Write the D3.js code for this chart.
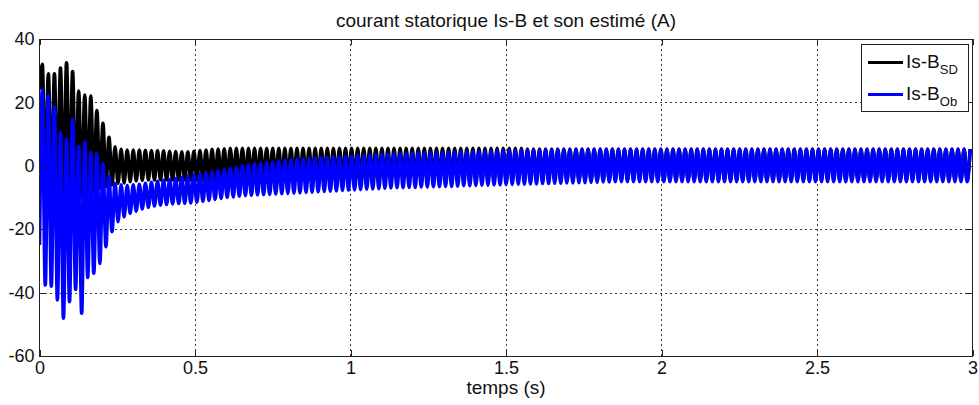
<!DOCTYPE html>
<html>
<head>
<meta charset="utf-8">
<script src="https://cdn.jsdelivr.net/npm/d3@7/dist/d3.min.js"></script>
<style>
  html, body { margin: 0; padding: 0; background: #fff; }
  svg { display: block; }
  text { font-family: "Liberation Sans", Arial, Helvetica, sans-serif; fill: #111; }
</style>
</head>
<body>
<svg id="chart" width="979" height="405"></svg>
<script>
// Stator current Is-B (measured) and its observer estimate, in amperes.
// Each series is stored as its successive cycle extremes: one peak and one
// trough per electrical period, starting from the value at t = 0.
const period = 0.0195;      // s, one electrical cycle
const peakPhase = 0.009;    // s, offset of the peak inside each cycle
const troughPhase = 0.0185; // s, offset of the trough inside each cycle

const sdStart = 24;
const sdPeaks = [
  32, 29, 29, 30.8, 32.5, 29.7, 23.6, 22.3, 22, 17.4,
  13.4, 9, 6, 5.2, 5, 5, 5, 4.9, 4.8, 4.8,
  4.7, 4.6, 4.5, 4.4, 4.4, 4.6, 4.8, 5, 5.2, 5.3,
  5.4, 5.5, 5.5, 5.5, 5.5, 5.5, 5.5, 5.5, 5.5, 5.5,
  5.5, 5.5, 5.5, 5.5, 5.5, 5.5, 5.5, 5.5, 5.5, 5.5,
  5.5, 5.5, 5.5, 5.5, 5.5, 5.5, 5.5, 5.5, 5.5, 5.5,
  5.5, 5.5, 5.5, 5.5, 5.5, 5.5, 5.5, 5.5, 5.5, 5.5,
  5.5, 5.5, 5.5, 5.5, 5.5, 5.5, 5.5, 5.5, 5.5, 5.5,
  5.3, 5.3, 5.3, 5.3, 5.3, 5.3, 5.3, 5.3, 5.3, 5.3,
  5.3, 5.3, 5.3, 5.3, 5.3, 5.3, 5.3, 5.3, 5.3, 5.3,
  5.3, 5.3, 5.3, 5.3, 5.3, 5.3, 5.3, 5.3, 5.3, 5.3,
  5.3, 5.3, 5.3, 5.3, 5.3, 5.3, 5.3, 5.3, 5.3, 5.3,
  5.3, 5.3, 5.3, 5.3, 5.3, 5.3, 5.3, 5.3, 5.3, 5.3,
  5.3, 5.3, 5.3, 5.3, 5.3, 5.3, 5.3, 5.3, 5.3, 5.3,
  5.3, 5.3, 5.3, 5.3, 5.3, 5.3, 5.3, 5.3, 5.3, 5.3,
  5.3, 5.3, 5.3, 5.3
];
const sdTroughs = [
  -6, -9, -10, -11, -11, -10, -10, -9, -8, -7,
  -6.5, -6, -5.5, -5.4, -5, -4.8, -4.6, -4.5, -4.5, -4.5,
  -4.5, -4.5, -4.5, -4.5, -4.5, -4.5, -4.5, -4.5, -4.5, -4.5,
  -4.5, -4.5, -4.5, -4.5, -4.5, -4.5, -4.5, -4.5, -4.5, -4.5,
  -4.5, -4.5, -4.5, -4.5, -4.5, -4.5, -4.5, -4.5, -4.5, -4.5,
  -4.5, -4.5, -4.5, -4.5, -4.5, -4.5, -4.5, -4.5, -4.5, -4.5,
  -4.5, -4.5, -4.5, -4.5, -4.5, -4.5, -4.5, -4.5, -4.5, -4.5,
  -4.5, -4.5, -4.5, -4.5, -4.5, -4.5, -4.5, -4.5, -4.5, -4.5,
  -4.5, -4.5, -4.5, -4.5, -4.5, -4.5, -4.5, -4.5, -4.5, -4.5,
  -4.5, -4.5, -4.5, -4.5, -4.5, -4.5, -4.5, -4.5, -4.5, -4.5,
  -4.5, -4.5, -4.5, -4.5, -4.5, -4.5, -4.5, -4.5, -4.5, -4.5,
  -4.5, -4.5, -4.5, -4.5, -4.5, -4.5, -4.5, -4.5, -4.5, -4.5,
  -4.5, -4.5, -4.5, -4.5, -4.5, -4.5, -4.5, -4.5, -4.5, -4.5,
  -4.5, -4.5, -4.5, -4.5, -4.5, -4.5, -4.5, -4.5, -4.5, -4.5,
  -4.5, -4.5, -4.5, -4.5, -4.5, -4.5, -4.5, -4.5, -4.5, -4.5,
  -4.5, -4.5, -4.5, -4.5
];

const obStart = -25;
const obPeaks = [
  24, 22, 18.6, 10.5, 8.4, 14.5, 6.1, 7.5, 4.2, 3.8,
  0.7, -3.4, -5.5, -6.0, -6.2, -6.0, -5.8, -5.5, -5.2, -4.9,
  -4.6, -4.3, -4.0, -3.7, -3.3, -3.0, -2.7, -2.3, -2.0, -1.6,
  -1.2, -0.8, -0.4, 0.0, 0.3, 0.6, 0.9, 1.1, 1.3, 1.5,
  1.7, 1.9, 2.1, 2.2, 2.4, 2.5, 2.6, 2.7, 2.8, 2.9,
  3.0, 3.1, 3.2, 3.3, 3.4, 3.5, 3.6, 3.7, 3.8, 3.9,
  3.9, 4.0, 4.0, 4.1, 4.1, 4.2, 4.2, 4.3, 4.3, 4.4,
  4.4, 4.5, 4.5, 4.6, 4.6, 4.7, 4.7, 4.8, 4.8, 4.9,
  4.9, 5.0, 5.0, 5.0, 5.1, 5.1, 5.1, 5.1, 5.2, 5.2,
  5.2, 5.2, 5.2, 5.2, 5.2, 5.2, 5.2, 5.2, 5.2, 5.2,
  5.2, 5.2, 5.2, 5.2, 5.2, 5.2, 5.2, 5.2, 5.2, 5.2,
  5.2, 5.2, 5.2, 5.2, 5.2, 5.2, 5.2, 5.2, 5.2, 5.2,
  5.2, 5.2, 5.2, 5.2, 5.2, 5.2, 5.2, 5.2, 5.2, 5.2,
  5.2, 5.2, 5.2, 5.2, 5.2, 5.2, 5.2, 5.2, 5.2, 5.2,
  5.2, 5.2, 5.2, 5.2, 5.2, 5.2, 5.2, 5.2, 5.2, 5.2,
  5.2, 5.2, 5.2, 5.2
];
const obTroughs = [
  -37.6, -38, -42.3, -48.1, -42.9, -39, -46.5, -35.2, -33.9, -30.8,
  -25.5, -20.8, -17.6, -16.1, -15.0, -14.3, -13.6, -13.1, -12.7, -12.4,
  -12.2, -12.0, -11.9, -11.8, -11.7, -11.5, -11.2, -10.9, -10.6, -10.3,
  -10.0, -9.8, -9.6, -9.4, -9.3, -9.2, -9.1, -9.0, -8.9, -8.8,
  -8.7, -8.6, -8.5, -8.4, -8.3, -8.2, -8.1, -8.0, -7.9, -7.8,
  -7.7, -7.6, -7.5, -7.4, -7.3, -7.2, -7.1, -7.0, -6.9, -6.9,
  -6.8, -6.8, -6.7, -6.7, -6.6, -6.6, -6.5, -6.5, -6.4, -6.3,
  -6.3, -6.2, -6.1, -6.1, -6.0, -6.0, -5.9, -5.9, -5.8, -5.8,
  -5.7, -5.7, -5.6, -5.6, -5.5, -5.5, -5.4, -5.4, -5.3, -5.3,
  -5.2, -5.2, -5.1, -5.1, -5.0, -5.0, -5.0, -5.0, -5.0, -5.0,
  -5.0, -5.0, -5.0, -5.0, -5.0, -5.0, -5.0, -5.0, -5.0, -5.0,
  -5.0, -5.0, -5.0, -5.0, -5.0, -5.0, -5.0, -5.0, -5.0, -5.0,
  -5.0, -5.0, -5.0, -5.0, -5.0, -5.0, -5.0, -5.0, -5.0, -5.0,
  -5.0, -5.0, -5.0, -5.0, -5.0, -5.0, -5.0, -5.0, -5.0, -5.0,
  -5.0, -5.0, -5.0, -5.0, -5.0, -5.0, -5.0, -5.0, -5.0, -5.0,
  -5.0, -5.0, -5.0, -5.0
];

const xTicks = [0, 0.5, 1, 1.5, 2, 2.5, 3];
const yTicks = [-60, -40, -20, 0, 20, 40];
const titleText = "courant statorique Is-B et son estimé (A)";
const xLabel = "temps (s)";
const seriesNames = [["Is-B", "SD"], ["Is-B", "Ob"]];
const seriesColors = ["#000000", "#0000ff"];

// ---- layout ----
const plot = { left: 39.5, right: 972.5, top: 39, bottom: 356 };
const svg = d3.select("#chart");
const x = d3.scaleLinear().domain([0, 3]).range([plot.left, plot.right]);
const y = d3.scaleLinear().domain([-60, 40]).range([plot.bottom, plot.top]);

// Turn a start value + per-cycle extremes into an ordered list of points.
function toPoints(start, peaks, troughs) {
  const pts = [{ t: 0, v: start }];
  peaks.forEach((p, k) => {
    pts.push({ t: k * period + peakPhase, v: p });
    pts.push({ t: k * period + troughPhase, v: troughs[k] });
  });
  return pts.filter(d => d.t <= 3);
}

// grid
const grid = svg.append("g").attr("stroke", "#3a3a3a").attr("stroke-width", 1)
  .attr("stroke-dasharray", "2,3").attr("shape-rendering", "crispEdges");
grid.selectAll("line.gx").data(xTicks.slice(1, -1)).join("line")
  .attr("x1", d => Math.round(x(d)) + 0.5).attr("x2", d => Math.round(x(d)) + 0.5)
  .attr("y1", plot.top).attr("y2", plot.bottom);
grid.selectAll("line.gy").data(yTicks.slice(1, -1)).join("line")
  .attr("y1", d => Math.round(y(d)) + 0.5).attr("y2", d => Math.round(y(d)) + 0.5)
  .attr("x1", plot.left).attr("x2", plot.right);

// traces
svg.append("clipPath").attr("id", "plotClip").append("rect")
  .attr("x", plot.left).attr("y", plot.top)
  .attr("width", plot.right - plot.left).attr("height", plot.bottom - plot.top);

const line = d3.line().x(d => x(d.t)).y(d => y(d.v)).curve(d3.curveMonotoneX);
const traces = svg.append("g").attr("clip-path", "url(#plotClip)");
traces.append("path").datum(toPoints(sdStart, sdPeaks, sdTroughs))
  .attr("d", line).attr("fill", "none").attr("stroke", seriesColors[0])
  .attr("stroke-width", 3.6).attr("stroke-linejoin", "round");
traces.append("path").datum(toPoints(obStart, obPeaks, obTroughs))
  .attr("d", line).attr("fill", "none").attr("stroke", seriesColors[1])
  .attr("stroke-width", 3.6).attr("stroke-linejoin", "round");

// axes box with inward ticks on all four sides
const tickLen = 6;
const frame = svg.append("g").attr("stroke", "#222").attr("stroke-width", 1)
  .attr("shape-rendering", "crispEdges").attr("fill", "none");
frame.append("rect").attr("x", plot.left).attr("y", plot.top + 0.5)
  .attr("width", plot.right - plot.left).attr("height", plot.bottom - plot.top);

const xAxisB = d3.axisBottom(x).tickValues(xTicks).tickSize(-tickLen).tickPadding(5).tickFormat(d => String(d));
const xAxisT = d3.axisTop(x).tickValues(xTicks).tickSize(-tickLen).tickFormat("");
const yAxisL = d3.axisLeft(y).tickValues(yTicks).tickSize(-tickLen).tickPadding(4.5).tickFormat(d => String(d));
const yAxisR = d3.axisRight(y).tickValues(yTicks).tickSize(-tickLen).tickFormat("");

function styleAxis(g) {
  g.select(".domain").remove();
  g.selectAll(".tick line").attr("stroke", "#222").attr("shape-rendering", "crispEdges");
  g.selectAll(".tick text").attr("fill", "#111").style("font-size", "18px")
    .style("font-family", '"Liberation Sans", Arial, sans-serif');
}
svg.append("g").attr("transform", `translate(0,${plot.bottom})`).call(xAxisB).call(styleAxis);
svg.append("g").attr("transform", `translate(0,${plot.top})`).call(xAxisT).call(styleAxis);
svg.append("g").attr("transform", `translate(${plot.left - 0.5},0)`).call(yAxisL).call(styleAxis);
svg.append("g").attr("transform", `translate(${plot.right - 0.5},0)`).call(yAxisR).call(styleAxis);

// title and axis label
svg.append("text").attr("x", (plot.left + plot.right) / 2).attr("y", 26.5)
  .attr("text-anchor", "middle").style("font-size", "19px").text(titleText);
svg.append("text").attr("x", (plot.left + plot.right) / 2).attr("y", 394)
  .attr("text-anchor", "middle").style("font-size", "19px").text(xLabel);

// legend
const lg = svg.append("g");
lg.append("rect").attr("x", 861.5).attr("y", 44.5).attr("width", 107).attr("height", 67)
  .attr("fill", "#fff").attr("stroke", "#222").attr("stroke-width", 1).attr("shape-rendering", "crispEdges");
const rows = lg.selectAll("g.row").data(seriesNames).join("g")
  .attr("transform", (d, i) => `translate(0,${62.5 + i * 32})`);
rows.append("line").attr("x1", 868).attr("x2", 903).attr("y1", 0).attr("y2", 0)
  .attr("stroke", (d, i) => seriesColors[i]).attr("stroke-width", 3);
const lt = rows.append("text").attr("x", 906).attr("y", 5).style("font-size", "19px");
lt.append("tspan").text(d => d[0]);
lt.append("tspan").attr("dy", 6).style("font-size", "13px").text(d => d[1]);
</script>
</body>
</html>
